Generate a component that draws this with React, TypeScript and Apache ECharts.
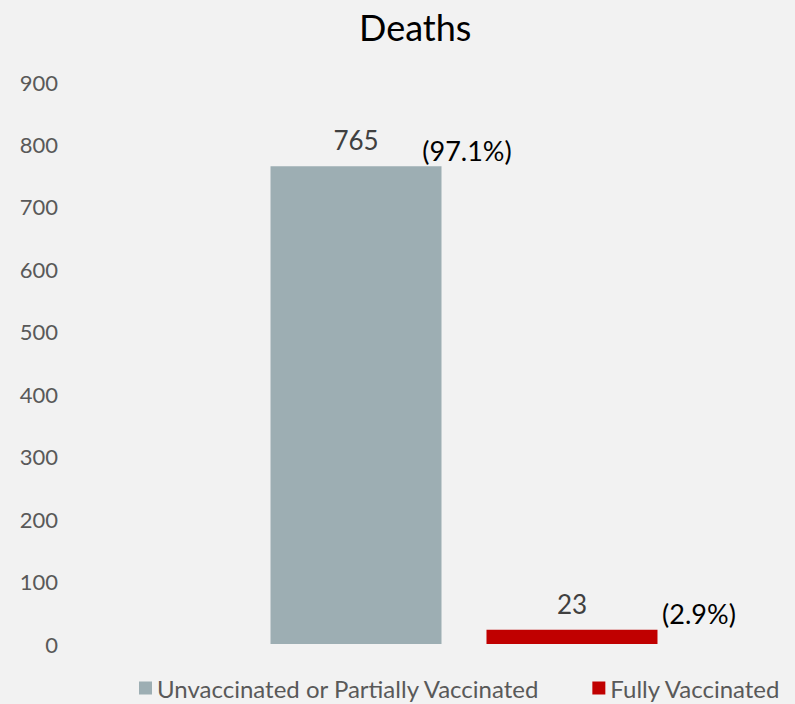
import React, { useEffect, useRef } from "react";
import * as echarts from "echarts";

const categories = ["Deaths"];
const seriesNames = ["Unvaccinated or Partially Vaccinated", "Fully Vaccinated"];
const unvaccinated = [765];
const fullyVaccinated = [23];
const percentLabels = ["(97.1%)", "(2.9%)"];
const yTicks = { min: 0, max: 900, interval: 100 };

export default function App() {
  const ref = useRef<HTMLDivElement>(null);
  useEffect(() => {
    document.body.style.margin = "0";
    const chart = echarts.init(ref.current!, null, { renderer: "svg" });
    const font = "Lato, 'Open Sans', sans-serif";
    const pctLabel = (text: string, dx: number) => ({
      symbol: "circle",
      symbolSize: 0,
      label: {
        show: true,
        position: "inside",
        formatter: text,
        offset: [dx, -16],
        fontSize: 27,
        color: "#000000",
        fontFamily: font,
      },
    });
    chart.setOption({
      animation: false,
      backgroundColor: "#f2f2f2",
      textStyle: { fontFamily: font },
      title: {
        text: "Deaths",
        left: 354,
        top: 4,
        textStyle: { fontSize: 36, fontWeight: "normal", color: "#000000", fontFamily: font },
      },
      legend: {
        left: 139,
        top: 676,
        padding: 0,
        itemWidth: 13,
        itemHeight: 13,
        itemGap: 52,
        icon: "rect",
        textStyle: { fontSize: 24, lineHeight: 24, color: "#595959", fontFamily: font },
        data: seriesNames,
      },
      grid: { left: 140, right: 7, top: 82, bottom: 60 },
      xAxis: {
        type: "category",
        data: categories,
        axisLine: { show: false },
        axisTick: { show: false },
        axisLabel: { show: false },
      },
      yAxis: {
        type: "value",
        min: yTicks.min,
        max: yTicks.max,
        interval: yTicks.interval,
        splitLine: { show: false },
        axisLine: { show: false },
        axisTick: { show: false },
        axisLabel: { fontSize: 22, color: "#595959", margin: 82, fontFamily: font },
      },
      series: [
        {
          name: seriesNames[0],
          type: "bar",
          data: unvaccinated,
          barWidth: 171,
          barGap: "26.3%",
          itemStyle: { color: "#9daeb3" },
          label: { show: true, position: "top", distance: 13, fontSize: 26, color: "#404040", fontFamily: font },
          markPoint: {
            data: [{ coord: [categories[0], unvaccinated[0]], ...pctLabel(percentLabels[0], 111) }],
          },
        },
        {
          name: seriesNames[1],
          type: "bar",
          data: fullyVaccinated,
          barWidth: 171,
          itemStyle: { color: "#c00000" },
          label: { show: true, position: "top", distance: 13, fontSize: 26, color: "#404040", fontFamily: font },
          markPoint: {
            data: [{ coord: [categories[0], fullyVaccinated[0]], ...pctLabel(percentLabels[1], 127) }],
          },
        },
      ],
    });
    return () => chart.dispose();
  }, []);
  return <div ref={ref} style={{ width: 795, height: 704 }} />;
}
